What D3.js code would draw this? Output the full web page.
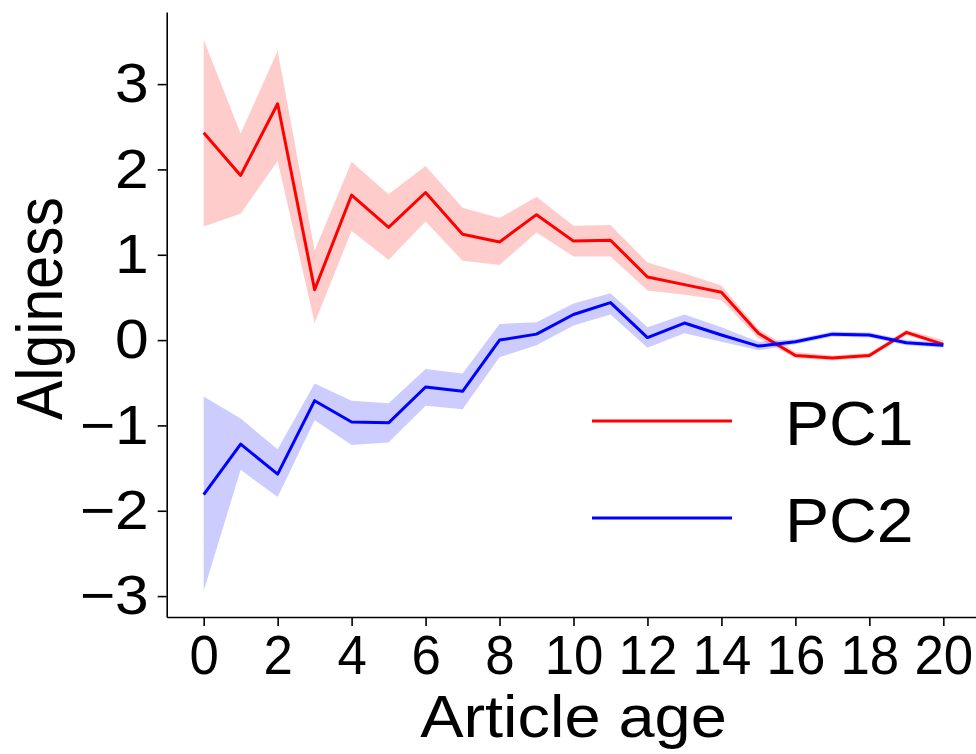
<!DOCTYPE html>
<html>
<head>
<meta charset="utf-8">
<script src="https://d3js.org/d3.v7.min.js"></script>
<style>
    body { margin: 0; background: #fff; }
    svg { display: block; }
    text { font-family: "Liberation Sans", Arial, Helvetica, sans-serif; fill: #000; }
</style>
</head>
<body>
<script>
    // article age 0..20
    const ages = d3.range(0, 21);

    // PC1 mean and band
    const pc1 = [2.43, 1.93, 2.77, 0.59, 1.70, 1.32, 1.73, 1.24, 1.15, 1.47, 1.16, 1.17, 0.74, 0.65, 0.56, 0.08, -0.18, -0.21, -0.18, 0.09, -0.05];
    const pc1Lo = [1.33, 1.48, 2.10, 0.20, 1.28, 0.94, 1.39, 0.93, 0.88, 1.26, 0.98, 0.98, 0.58, 0.53, 0.47, 0.02, -0.21, -0.24, -0.21, 0.06, -0.08];
    const pc1Hi = [3.52, 2.42, 3.39, 1.05, 2.09, 1.71, 2.04, 1.55, 1.43, 1.68, 1.34, 1.35, 0.91, 0.78, 0.64, 0.13, -0.14, -0.18, -0.15, 0.12, 0.00];

    // PC2 mean and band
    const pc2 = [-1.81, -1.22, -1.57, -0.71, -0.96, -0.97, -0.55, -0.60, 0.00, 0.07, 0.30, 0.44, 0.03, 0.20, 0.06, -0.07, -0.02, 0.07, 0.06, -0.03, -0.06];
    const pc2Lo = [-2.94, -1.52, -1.84, -0.94, -1.23, -1.20, -0.77, -0.81, -0.20, -0.06, 0.17, 0.30, -0.09, 0.08, -0.02, -0.12, -0.05, 0.04, 0.03, -0.06, -0.09];
    const pc2Hi = [-0.66, -0.92, -1.28, -0.51, -0.71, -0.74, -0.34, -0.39, 0.19, 0.21, 0.43, 0.55, 0.15, 0.30, 0.15, -0.02, 0.01, 0.10, 0.09, 0.00, -0.03];

    const xTicks = d3.range(0, 21, 2);
    const yTicks = [-3, -2, -1, 0, 1, 2, 3];

    const series = [
        { name: 'PC1', color: 'red', mean: pc1, lo: pc1Lo, hi: pc1Hi },
        { name: 'PC2', color: 'blue', mean: pc2, lo: pc2Lo, hi: pc2Hi }
    ];

    const width = 976, height = 754;
    const stretch = 1.1; // most text in the picture is a bit wider than tall

    const svg = d3.select('body').append('svg')
        .attr('width', width)
        .attr('height', height);

    const x = d3.scaleLinear().domain([-1, 21]).range([166.7, 980.3]);
    const y = d3.scaleLinear().domain([-3.245, 3.845]).range([617, 12]);

    const line = d3.line().x((d, i) => x(ages[i])).y(d => y(d));
    const band = d3.area()
        .x(d => x(d.a))
        .y0(d => y(d.lo))
        .y1(d => y(d.hi));

    series.forEach(s => {
        svg.append('path')
            .attr('d', line(s.mean))
            .attr('fill', 'none')
            .attr('stroke', s.color)
            .attr('stroke-width', 3)
            .attr('stroke-linejoin', 'round');
        svg.append('path')
            .attr('d', band(ages.map((a, i) => ({ a: a, lo: s.lo[i], hi: s.hi[i] }))))
            .attr('fill', s.color)
            .attr('fill-opacity', 0.2);
    });

    // axes
    const xAxis = svg.append('g')
        .attr('transform', `translate(0,${y.range()[0]})`)
        .call(d3.axisBottom(x).tickValues(xTicks).tickSize(9).tickSizeOuter(0).tickPadding(9));
    const yAxis = svg.append('g')
        .attr('transform', `translate(${x.range()[0]},0)`)
        .call(d3.axisLeft(y).tickValues(yTicks).tickSize(9).tickSizeOuter(0).tickPadding(9)
            .tickFormat(d3.format('d')));

    [xAxis, yAxis].forEach(g => {
        g.select('.domain').attr('stroke', '#000').attr('stroke-width', 1.6);
        g.selectAll('.tick line').attr('stroke', '#000').attr('stroke-width', 1.6);
        g.selectAll('text')
            .attr('font-family', '"Liberation Sans", Arial, Helvetica, sans-serif')
            .attr('font-size', 55)
            .attr('fill', '#000');
    });
    // x tick labels are packed tight in the picture, keep them narrow
    xAxis.selectAll('text').attr('transform', 'scale(0.96,1)');
    yAxis.selectAll('text')
        .attr('x', -18 / stretch)
        .attr('transform', `scale(${stretch},1)`);

    // axis titles
    svg.append('text')
        .attr('transform', `translate(${(x.range()[0] + x.range()[1]) / 2},737) scale(${stretch},1)`)
        .attr('text-anchor', 'middle')
        .attr('font-size', 59)
        .text('Article age');

    svg.append('text')
        .attr('transform', `translate(62,${(y.range()[0] + y.range()[1]) / 2 - 6}) rotate(-90) scale(1,${stretch})`)
        .attr('text-anchor', 'middle')
        .attr('font-size', 59)
        .text('Alginess');

    // legend
    const legend = svg.append('g');
    series.forEach((s, i) => {
        const ly = 421 + i * 97;
        legend.append('line')
            .attr('x1', 592).attr('x2', 732)
            .attr('y1', ly).attr('y2', ly)
            .attr('stroke', s.color)
            .attr('stroke-width', 3);
        legend.append('text')
            .attr('transform', `translate(785,${ly + 24}) scale(1.05,1)`)
            .attr('font-size', 63)
            .text(s.name);
    });
</script>
</body>
</html>
